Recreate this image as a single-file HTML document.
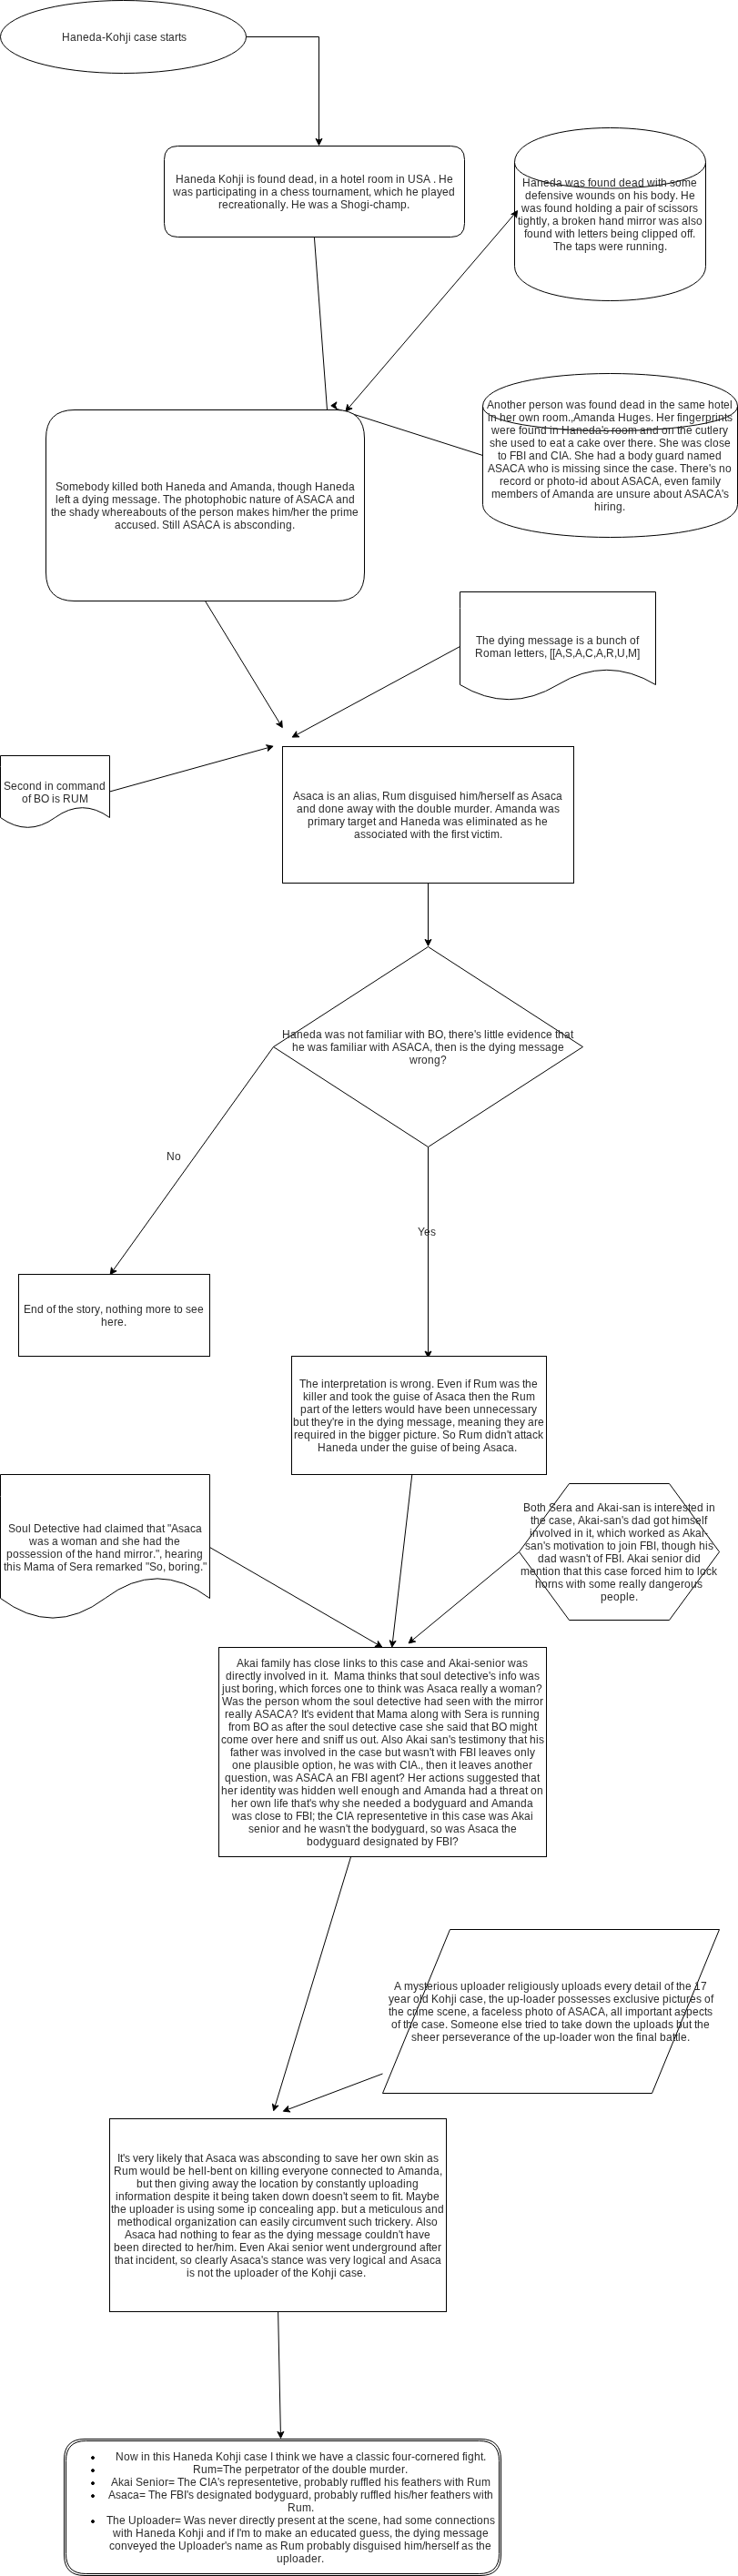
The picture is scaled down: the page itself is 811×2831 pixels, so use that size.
<!DOCTYPE html><html><head><meta charset="utf-8"><style>html,body{margin:0;padding:0;background:#fff;width:811px;height:2831px;overflow:hidden}svg{display:block;will-change:transform}</style></head><body><svg width="811" height="2831" viewBox="0 0 811 2831"><style>.s{fill:#fff;stroke:#000;stroke-width:1}.n{fill:none;stroke:#000;stroke-width:1}.a{fill:#000;stroke:#000;stroke-width:1}text{white-space:pre;font-family:"Liberation Sans",sans-serif;font-size:12px;fill:#2b2b2b}</style><ellipse cx="135.5" cy="40.5" rx="135" ry="40" class="s"/><path d="M195.5 160.5L495.5 160.5Q510.5 160.5 510.5 175.5L510.5 245.5Q510.5 260.5 495.5 260.5L195.5 260.5Q180.5 260.5 180.5 245.5L180.5 175.5Q180.5 160.5 195.5 160.5Z" class="s"/><path d="M565.5 178.5C565.5 127.83 775.5 127.83 775.5 178.5L775.5 292.5C775.5 343.17 565.5 343.17 565.5 292.5Z" class="s"/><path d="M565.5 178.5C565.5 216.5 775.5 216.5 775.5 178.5" class="n"/><path d="M530.5 446.5C530.5 398.5 810.5 398.5 810.5 446.5L810.5 554.5C810.5 602.5 530.5 602.5 530.5 554.5Z" class="s"/><path d="M530.5 446.5C530.5 482.5 810.5 482.5 810.5 446.5" class="n"/><path d="M505.5 650.5L720.5 650.5L720.5 752.5Q666.75 720.1 613 752.5Q559.25 784.9 505.5 752.5L505.5 668.5Z" class="s"/><path d="M0.5 830.5L120.5 830.5L120.5 898.5Q90.5 876.9 60.5 898.5Q30.5 920.1 0.5 898.5L0.5 842.5Z" class="s"/><rect x="310.5" y="820.5" width="320" height="150" class="s"/><path d="M470.5 1040.5L640.5 1150.5L470.5 1260.5L300.5 1150.5Z" class="s"/><path d="M0.5 1620.5L230.5 1620.5L230.5 1756.5Q173 1713.3 115.5 1756.5Q58 1799.7 0.5 1756.5L0.5 1644.5Z" class="s"/><path d="M625.5 1630.5L735.5 1630.5L790.5 1705.5L735.5 1780.5L625.5 1780.5L570.5 1705.5Z" class="s"/><rect x="240.5" y="1810.5" width="360" height="230" class="s"/><path d="M420.5 2300.5L494.5 2120.5L790.5 2120.5L716.5 2300.5Z" class="s"/><rect x="120.5" y="2328.5" width="370" height="212" class="s"/><path d="M93 2680.5L528 2680.5Q550.5 2680.5 550.5 2703L550.5 2808Q550.5 2830.5 528 2830.5L93 2830.5Q70.5 2830.5 70.5 2808L70.5 2703Q70.5 2680.5 93 2680.5Z" class="s"/><path d="M94.4 2682.5L526.6 2682.5Q548.5 2682.5 548.5 2704.4L548.5 2806.6Q548.5 2828.5 526.6 2828.5L94.4 2828.5Q72.5 2828.5 72.5 2806.6L72.5 2704.4Q72.5 2682.5 94.4 2682.5Z" class="n"/><path d="M270.5 40.5L350.5 40.5L350.5 154.15" class="n"/><path d="M350.5 159.4L354 152.4L350.5 154.15L347 152.4Z" class="a"/><path d="M345.4 260.5L359.5 450.5" class="n"/><path d="M564.5 236.2L383.31 448.01" class="n"/><path d="M379.9 452L387.11 448.96L383.31 448.01L381.79 444.41Z" class="a"/><path d="M568.5 231.6L561.74 235.53L565.62 235.99L567.59 239.37Z" class="a"/><path d="M530.5 500.5L369 449" class="n"/><path d="M363.8 445.8L370 441.8L368.5 445.5L370 449.7Z" class="a"/><path d="M225.5 660.5L307.57 795.12" class="n"/><path d="M310.3 799.6L309.64 791.8L307.57 795.12L303.67 795.44Z" class="a"/><path d="M505.5 710.5L325.82 807.6" class="n"/><path d="M321.2 810.1L329.02 809.85L325.82 807.6L325.69 803.69Z" class="a"/><path d="M120.5 870L295.04 821.6" class="n"/><path d="M300.1 820.2L292.42 818.7L295.04 821.6L294.29 825.44Z" class="a"/><path d="M470.5 970.5L470.5 1034.15" class="n"/><path d="M470.5 1039.4L474 1032.4L470.5 1034.15L467 1032.4Z" class="a"/><path d="M300.5 1150.5L124.26 1396.23" class="n"/><path d="M121.2 1400.5L128.12 1396.85L124.26 1396.23L122.44 1392.77Z" class="a"/><path d="M470.5 1260.5L470.5 1486.75" class="n"/><path d="M470.5 1492L474 1485L470.5 1486.75L467 1485Z" class="a"/><path d="M452.8 1620.5L431.41 1804.79" class="n"/><path d="M430.8 1810L435.08 1803.45L431.41 1804.79L428.13 1802.64Z" class="a"/><path d="M230.5 1700.5L415.16 1807.37" class="n"/><path d="M419.7 1810L415.39 1803.46L415.16 1807.37L411.89 1809.52Z" class="a"/><path d="M570.5 1705.5L453.15 1802.55" class="n"/><path d="M449.1 1805.9L456.72 1804.14L453.15 1802.55L452.26 1798.74Z" class="a"/><path d="M385.6 2040.5L302.23 2314.68" class="n"/><path d="M300.7 2319.7L306.09 2314.02L302.23 2314.68L299.39 2311.98Z" class="a"/><path d="M420.5 2279L316.21 2318.35" class="n"/><path d="M311.3 2320.2L319.08 2321L316.21 2318.35L316.61 2314.45Z" class="a"/><path d="M305.6 2540.5L308.39 2674.15" class="n"/><path d="M308.5 2679.4L311.85 2672.33L308.39 2674.15L304.85 2672.47Z" class="a"/><path d="M82 450.5L369 450.5Q400.5 450.5 400.5 482L400.5 629Q400.5 660.5 369 660.5L82 660.5Q50.5 660.5 50.5 629L50.5 482Q50.5 450.5 82 450.5Z" class="s"/><rect x="20.5" y="1400.5" width="210" height="90" class="s"/><rect x="320.5" y="1490.5" width="280" height="130" class="s"/><text x="68 77 84 91 98 105 112 116 124 131 138 141 144 147 153 160 166 173 176 182 185 192 196 199" y="45">Haneda-Kohji case starts</text><text x="193 202 209 216 223 230 237 240 248 255 262 265 268 271 274 280 283 286 293 300 307 314 317 324 331 338 345 348 351 354 361 364 371 374 381 388 391 398 401 404 408 415 422 432 435 438 445 448 457 465 473 476 479 482 491" y="201">Haneda Kohji is found dead, in a hotel room in USA . He</text><text x="190 199 206 212 215 222 229 233 236 239 245 248 255 262 265 268 275 282 285 288 295 298 305 308 314 321 328 334 340 343 346 353 360 364 371 378 388 395 402 405 408 411 420 427 430 436 443 446 453 460 463 470 473 480 486 493" y="215">was participating in a chess tournament, which he played</text><text x="240 244 251 257 261 268 275 278 281 288 295 302 305 308 314 317 320 329 336 339 348 355 361 364 371 374 382 389 396 403 406 410 416 423 430 440 447" y="229">recreationally. He was a Shogi-champ.</text><text x="574 583 590 597 604 611 618 621 630 637 643 646 649 656 663 670 677 680 687 694 701 708 711 720 723 726 733 736 742 749 759" y="205">Haneda was found dead with some</text><text x="577 584 591 594 601 608 614 617 623 630 633 642 649 656 663 670 676 679 686 693 696 703 706 712 715 722 729 736 742 745 748 757" y="219">defensive wounds on his body. He</text><text x="573 582 589 595 598 601 608 615 622 629 632 639 646 649 656 659 666 673 676 683 686 693 700 703 707 710 717 720 723 729 735 738 744 750 757 761" y="233">was found holding a pair of scissors</text><text x="569 572 575 582 589 592 595 601 604 607 614 617 624 628 635 641 648 655 658 665 672 679 686 689 699 702 706 710 717 721 724 733 740 746 749 756 759 765" y="247">tightly, a broken hand mirror was also</text><text x="576 579 586 593 600 607 610 619 622 625 632 635 638 645 648 651 658 662 668 671 678 685 688 695 702 705 711 714 717 724 731 738 745 748 755 758 761" y="261">found with letters being clipped off.</text><text x="608 615 622 629 632 635 642 649 655 658 667 674 678 685 688 692 699 706 713 716 723 730" y="275">The taps were running.</text><text x="61 69 76 86 93 100 107 114 120 123 129 132 135 138 145 152 155 162 169 172 179 182 191 198 205 212 219 226 229 236 243 250 253 261 271 278 285 292 299 302 305 308 315 322 329 336 343 346 355 362 369 376 383" y="539">Somebody killed both Haneda and Amanda, though Haneda</text><text x="61 64 71 74 77 80 87 90 97 103 106 113 120 123 133 140 146 152 159 166 173 176 179 186 193 200 203 210 217 224 227 234 241 248 255 262 265 271 274 281 288 291 298 302 309 312 319 322 325 333 341 349 358 366 369 376 383" y="553">left a dying message. The photophobic nature of ASACA and</text><text x="56 59 66 73 76 82 89 96 103 109 112 121 128 135 139 146 153 160 167 174 177 183 186 193 196 199 202 209 216 219 226 233 237 243 250 257 260 270 277 283 290 296 299 306 309 319 322 329 336 340 343 346 353 360 363 370 374 377 387" y="567">the shady whereabouts of the person makes him/her the prime</text><text x="126 133 139 145 152 158 165 172 175 178 186 189 192 195 198 201 209 217 225 234 242 245 248 254 257 264 271 277 283 290 297 304 307 314 321" y="581">accused. Still ASACA is absconding.</text><text x="535 543 550 557 560 567 574 578 581 588 595 599 605 612 619 622 631 638 644 647 650 657 664 671 678 681 688 695 702 709 712 715 722 725 728 735 742 745 751 758 768 775 778 785 792 795 802" y="449">Another person was found dead in the same hotel</text><text x="536 539 546 549 556 563 567 570 577 586 593 596 600 607 614 624 627 630 638 648 655 662 669 676 679 688 695 702 709 715 718 721 730 737 741 744 747 750 757 764 771 775 782 786 789 796 799" y="463">in her own room.,Amanda Huges. Her fingerprints</text><text x="540 549 556 560 567 570 573 580 587 594 601 604 607 614 617 626 633 640 647 654 661 663 669 672 676 683 690 700 703 710 717 724 727 734 741 744 747 754 761 764 770 777 780 783 790 794" y="477">were found in Haneda&#x27;s room and on the cutlery</text><text x="538 544 551 558 561 568 574 581 588 591 594 601 604 611 618 621 624 631 634 640 647 653 660 663 670 676 683 687 690 693 700 707 711 718 721 724 732 739 746 749 758 765 771 774 780 783 790 796" y="491">she used to eat a cake over there. She was close</text><text x="547 550 557 560 567 575 578 581 588 595 602 605 614 617 625 628 631 639 646 653 656 663 670 677 680 687 690 697 704 711 717 720 727 734 741 745 752 755 762 769 779 786" y="505">to FBI and CIA. She had a body guard named</text><text x="536 544 552 560 569 577 580 589 596 603 606 609 615 618 628 631 637 643 646 653 660 663 669 672 679 685 692 695 698 705 712 715 721 728 734 741 744 747 754 761 768 772 779 781 787 790 797" y="519">ASACA who is missing since the case. There&#x27;s no</text><text x="549 553 560 566 573 577 584 587 594 598 601 608 615 622 625 632 636 639 646 649 656 663 670 677 680 683 691 699 707 716 724 727 730 737 743 750 757 760 763 770 780 783 786" y="533">record or photo-id about ASACA, even family</text><text x="540 550 557 567 574 581 585 591 594 601 604 607 615 625 632 639 646 653 656 663 667 674 677 684 691 697 704 708 715 718 725 732 739 746 749 752 760 768 776 785 793 795" y="547">members of Amanda are unsure about ASACA&#x27;s</text><text x="653 660 663 667 670 677 684" y="561">hiring.</text><text x="523 530 537 544 547 554 560 563 570 577 580 590 597 603 609 616 623 630 633 636 642 645 652 655 662 669 676 682 689 692 699" y="708">The dying message is a bunch of</text><text x="522 531 538 548 555 562 565 568 575 578 581 588 592 598 601 604 607 610 618 621 629 632 640 643 652 655 663 666 675 678 687 690 700" y="722">Roman letters, [[A,S,A,C,A,R,U,M]</text><text x="4 12 19 25 32 39 46 49 52 59 62 68 75 85 95 102 109" y="868">Second in command</text><text x="24 31 34 37 45 54 57 60 66 69 78 87" y="882">of BO is RUM</text><text x="322 330 336 343 349 356 359 362 368 371 378 385 388 395 398 401 408 414 417 420 429 436 446 449 456 459 465 472 479 482 488 495 502 505 512 515 525 528 535 542 546 552 559 562 565 568 575 581 584 592 598 605 611" y="879">Asaca is an alias, Rum disguised him/herself as Asaca</text><text x="326 333 340 347 350 357 364 371 378 381 388 397 404 410 413 422 425 428 435 438 441 448 455 458 465 472 479 486 489 496 499 509 516 520 527 534 538 541 544 552 562 569 576 583 590 593 602 609" y="893">and done away with the double murder. Amanda was</text><text x="338 345 349 352 362 369 373 379 382 385 392 396 403 410 413 416 423 430 437 440 449 456 463 470 477 484 487 496 503 509 512 519 522 525 535 538 545 552 555 562 569 572 579 585 588 595" y="907">primary target and Haneda was eliminated as he</text><text x="389 396 402 408 415 421 424 431 434 441 448 451 460 463 466 473 476 479 486 493 496 499 502 506 512 515 518 524 527 533 536 539 549" y="921">associated with the first victim.</text><text x="310 319 326 333 340 347 354 357 366 373 379 382 389 396 399 402 405 412 422 425 428 431 438 442 445 454 457 460 467 470 478 487 490 493 496 503 510 514 521 523 529 532 535 538 541 544 547 554 557 564 570 573 580 587 594 600 607 610 613 620 627" y="1141">Haneda was not familiar with BO, there&#x27;s little evidence that</text><text x="321 328 335 338 347 354 360 363 366 373 383 386 389 392 399 403 406 415 418 421 428 431 439 447 455 464 472 475 478 481 488 495 502 505 508 514 517 520 527 534 537 544 550 553 560 567 570 580 587 593 599 606 613" y="1155">he was familiar with ASACA, then is the dying message</text><text x="450 459 463 470 477 484" y="1169">wrong?</text><text x="26 34 41 48 51 58 61 64 67 74 81 84 90 93 100 104 110 113 116 123 130 133 140 143 150 157 160 170 177 181 188 191 194 201 204 210 217" y="1443">End of the story, nothing more to see</text><text x="111 118 125 129 136" y="1457">here.</text><text x="329 336 343 350 353 356 363 366 373 377 384 388 395 398 405 408 411 418 425 428 431 437 440 449 453 460 467 474 477 480 488 494 501 508 511 514 517 520 529 536 546 549 558 565 571 574 577 584" y="1525">The interpretation is wrong. Even if Rum was the</text><text x="333 339 342 345 348 355 359 362 369 376 383 386 389 396 403 409 412 415 422 429 432 439 446 449 455 462 465 472 475 478 486 492 499 505 512 515 518 525 532 539 542 545 552 559 562 571 578" y="1539">killer and took the guise of Asaca then the Rum</text><text x="330 337 344 348 351 354 361 364 367 370 377 384 387 390 397 400 403 410 414 420 423 432 439 446 449 456 459 466 473 479 486 489 496 503 510 517 520 527 534 541 548 554 561 567 573 580 584" y="1553">part of the letters would have been unnecessary</text><text x="322 329 336 339 342 345 352 359 365 367 371 378 381 384 391 394 397 404 411 414 421 427 430 437 444 447 457 464 470 476 483 490 497 500 503 513 520 527 534 537 544 551 554 557 564 571 577 580 587 591" y="1567">but they&#x27;re in the dying message, meaning they are</text><text x="323 327 334 341 348 351 355 362 369 372 375 382 385 388 395 402 405 412 415 422 429 436 440 443 450 453 459 462 469 473 480 483 486 494 501 504 513 520 530 533 540 543 550 557 559 562 565 572 575 578 585 591" y="1581">required in the bigger picture. So Rum didn&#x27;t attack</text><text x="349 358 365 372 379 386 393 396 403 410 417 424 428 431 434 441 448 451 458 465 468 474 481 484 491 494 497 504 511 514 521 528 531 539 545 552 558 565 568" y="1595">Haneda under the guise of being Asaca. </text><text x="9 17 24 31 34 37 46 53 56 63 69 72 75 81 88 91 98 105 112 115 121 124 131 134 144 151 158 161 164 171 178 181 184 188 196 202 209 215" y="1684">Soul Detective had claimed that &quot;Asaca</text><text x="32 41 48 54 57 64 67 76 83 93 100 107 110 117 124 131 134 140 147 154 157 164 171 178 181 184 191" y="1698">was a woman and she had the</text><text x="7 14 21 27 33 40 46 52 55 62 69 72 79 82 85 88 95 102 105 112 119 126 133 136 146 149 153 157 164 168 171 175 178 181 188 195 202 206 209 216" y="1712">possession of the hand mirror.&quot;, hearing</text><text x="4 7 14 17 23 26 36 43 53 60 63 70 73 76 84 91 95 102 105 109 116 126 133 137 143 150 157 160 164 172 179 182 185 192 199 203 206 213 220 223" y="1726">this Mama of Sera remarked &quot;So, boring.&quot;</text><text x="575 583 590 593 600 603 611 618 622 629 632 639 646 653 656 664 670 677 680 684 690 697 704 707 710 716 719 722 729 732 739 743 750 756 759 766 773 776 779" y="1661">Both Sera and Akai-san is interested in</text><text x="583 586 593 600 603 609 616 622 629 632 635 643 649 656 659 663 669 676 683 685 691 694 701 708 715 718 725 732 735 738 745 748 758 764 771 774" y="1675">the case, Akai-san&#x27;s dad got himself</text><text x="582 585 592 598 605 608 614 621 628 631 634 641 644 647 650 653 656 665 672 675 681 688 691 700 707 711 717 724 731 734 741 747 750 758 764 771 774" y="1689">involved in it, which worked as Akai-</text><text x="577 583 590 597 599 605 608 618 625 628 631 637 644 647 650 657 664 667 670 677 680 683 690 693 700 703 710 718 721 724 727 730 737 744 751 758 765 768 775 778" y="1703">san&#x27;s motivation to join FBI, though his</text><text x="591 598 605 612 615 624 631 637 644 646 649 652 659 662 665 672 680 683 686 689 697 703 710 713 716 722 729 736 739 746 750 753 760 763" y="1717">dad wasn&#x27;t of FBI. Akai senior did</text><text x="572 582 589 596 599 602 609 616 619 622 629 636 639 642 645 652 655 661 664 670 677 683 690 693 696 703 707 713 720 727 730 737 740 750 753 756 763 766 769 776 782" y="1731">mention that this case forced him to lock</text><text x="588 595 602 606 613 619 622 631 634 637 644 647 653 660 670 677 680 684 691 698 701 704 710 713 720 727 734 741 748 752 759 766" y="1745">horns with some really dangerous</text><text x="660 667 674 681 688 691 698" y="1759">people.</text><text x="260 268 274 281 284 287 290 297 307 310 313 319 322 329 336 342 345 351 354 361 367 374 377 380 383 390 396 402 405 408 415 418 421 428 431 437 440 446 453 459 466 469 476 483 490 493 501 507 514 517 521 527 534 541 544 551 555 558 567 574" y="1832">Akai family has close links to this case and Akai-senior was</text><text x="248 255 258 262 269 275 278 281 287 290 293 300 306 313 316 322 329 336 339 342 349 352 355 358 361 364 367 377 384 394 401 404 407 414 417 424 430 436 439 442 449 456 459 462 468 475 482 485 488 495 502 505 512 518 521 524 530 537 539 545 548 551 558 561 568 571 580 587" y="1846">directly involved in it.  Mama thinks that soul detective&#x27;s info was</text><text x="244 247 254 260 263 266 273 280 284 287 294 301 304 307 316 323 326 332 339 342 345 352 356 362 369 375 378 385 392 399 402 405 412 415 418 425 428 435 441 444 453 460 466 469 477 483 490 496 503 506 510 517 524 527 530 536 539 546 549 558 565 575 582 589" y="1860">just boring, which forces one to think was Asaca really a woman?</text><text x="244 255 262 268 271 274 281 288 291 298 305 309 315 322 329 332 341 348 355 365 368 371 378 385 388 394 401 408 411 414 421 428 431 438 444 447 450 456 463 466 473 480 487 490 496 503 510 517 520 529 532 535 542 545 548 555 562 565 575 578 582 586 593" y="1874">Was the person whom the soul detective had seen with the mirror</text><text x="247 251 258 265 268 271 277 280 288 296 304 313 321 328 331 334 337 339 345 348 355 361 364 371 378 385 388 391 394 401 408 411 414 424 431 441 448 451 458 461 468 475 482 485 494 497 500 507 510 518 525 529 536 539 542 548 551 555 562 569 576 579 586" y="1888">really ASACA? It&#x27;s evident that Mama along with Sera is running</text><text x="251 254 258 265 275 278 286 295 298 305 311 314 321 324 327 334 338 341 344 351 358 361 367 374 381 384 387 394 401 404 411 417 420 423 429 436 439 445 452 458 465 468 474 481 488 491 497 504 507 514 517 520 527 534 537 540 548 557 560 570 573 580 587" y="1902">from BO as after the soul detective case she said that BO might</text><text x="243 249 256 266 273 276 283 289 296 300 303 310 317 321 328 331 338 345 352 355 361 368 371 374 377 380 387 393 396 403 410 413 416 419 427 430 436 443 446 454 460 467 470 473 479 486 493 495 501 504 507 514 520 523 526 536 543 550 556 559 562 569 576 579 582 589 592" y="1916">come over here and sniff us out. Also Akai san&#x27;s testimony that his</text><text x="253 256 263 266 273 280 284 287 296 303 309 312 315 322 328 335 338 344 351 358 361 364 371 374 377 384 391 394 400 407 413 420 423 430 437 440 443 452 459 465 472 474 477 480 489 492 495 502 505 512 520 523 526 529 536 543 549 556 562 565 572 579 582" y="1930">father was involved in the case but wasn&#x27;t with FBI leaves only</text><text x="255 262 269 276 279 286 289 296 303 309 312 319 322 329 332 339 346 349 352 359 366 369 372 379 386 389 398 405 411 414 423 426 429 436 439 448 451 459 462 465 468 471 478 485 492 495 498 501 504 507 514 521 527 534 540 543 550 557 564 567 574 581" y="1944">one plausible option, he was with CIA., then it leaves another</text><text x="247 254 261 268 274 277 280 287 294 297 300 309 316 322 325 333 341 349 358 366 369 376 383 386 393 401 404 407 414 421 428 435 438 445 448 457 464 468 471 478 484 487 490 497 504 510 513 519 526 533 540 547 553 556 563 570 573 576 583 590" y="1958">question, was ASACA an FBI agent? Her actions suggested that</text><text x="243 250 257 261 264 267 274 281 288 291 294 297 303 306 315 322 328 331 338 341 348 355 362 369 372 381 388 391 394 397 404 411 418 425 432 439 442 449 456 463 466 474 484 491 498 505 512 515 522 529 536 539 546 549 552 559 563 570 577 580 583 590" y="1972">her identity was hidden well enough and Amanda had a threat on</text><text x="254 261 268 272 275 282 291 298 301 304 307 310 317 320 323 330 337 340 342 348 351 360 367 373 376 382 389 396 399 406 413 420 427 434 441 444 451 454 461 468 475 481 488 495 502 506 513 516 523 530 537 540 548 558 565 572 579" y="1986">her own life that&#x27;s why she needed a bodyguard and Amanda</text><text x="255 264 271 277 280 286 289 296 302 309 312 315 322 325 332 340 343 346 349 352 359 366 369 378 381 389 392 396 403 410 414 421 427 434 441 444 451 454 457 463 470 473 476 483 486 489 496 499 505 508 514 521 527 534 537 546 553 559 562 570 576 583" y="2000">was close to FBI; the CIA representetive in this case was Akai</text><text x="273 279 286 293 296 303 307 310 317 324 331 334 341 348 351 360 367 373 380 382 385 388 391 398 405 408 415 422 429 435 442 449 456 460 467 470 473 479 486 489 498 505 511 514 522 528 535 541 548 551 554 561" y="2014">senior and he wasn&#x27;t the bodyguard, so was Asaca the</text><text x="337 344 351 358 364 371 378 385 389 396 399 406 413 419 422 429 436 443 446 453 460 463 470 476 479 486 494 497" y="2028">bodyguard designated by FBI?</text><text x="433 441 444 454 460 466 469 476 480 483 490 497 503 506 513 520 523 530 537 544 551 555 558 562 569 572 575 582 585 592 599 605 608 614 617 624 631 634 641 648 655 661 664 671 677 684 688 694 697 704 711 714 721 724 727 730 737 740 743 746 753 760 763 770" y="2187">A mysterious uploader religiously uploads every detail of the 17</text><text x="427 433 440 447 451 454 461 464 471 474 482 489 496 499 502 505 511 518 524 531 534 537 540 547 554 557 564 571 575 578 585 592 599 606 610 613 620 627 633 639 646 652 658 665 671 674 681 687 693 696 703 709 712 718 725 728 735 738 744 747 754 758 765 771 774 781" y="2201">year old Kohji case, the up-loader possesses exclusive pictures of</text><text x="427 430 437 444 447 453 457 460 470 477 480 486 492 499 506 513 516 519 526 529 532 539 545 552 555 562 568 574 577 584 591 598 601 608 611 618 621 624 632 640 648 657 665 668 671 678 681 684 687 690 700 707 714 718 721 728 735 738 741 748 754 761 768 774 777" y="2215">the crime scene, a faceless photo of ASACA, all important aspects</text><text x="430 437 440 443 446 453 460 463 469 476 482 489 492 495 503 510 520 527 534 541 548 551 558 561 567 574 577 580 584 587 594 601 604 607 614 617 620 627 633 640 643 650 657 666 673 676 679 686 693 696 703 710 713 720 727 734 740 743 750 757 760 763 766 773" y="2229">of the case. Someone else tried to take down the uploads but the</text><text x="452 458 465 472 479 483 486 493 500 504 510 517 523 530 534 541 548 554 561 564 571 574 577 580 587 594 597 604 611 615 618 625 632 639 646 650 653 662 669 676 679 682 689 696 699 702 705 712 719 722 725 732 739 742 745 748 755" y="2243">sheer perseverance of the up-loader won the final battle.</text><text x="129 132 135 137 143 146 152 159 163 169 172 175 178 184 191 194 200 203 206 213 220 223 226 234 240 247 253 260 263 272 279 285 288 295 302 308 314 321 328 335 338 345 352 355 358 365 368 374 381 387 394 397 404 411 415 418 425 434 441 444 450 456 459 466 469 476" y="2376">It&#x27;s very likely that Asaca was absconding to save her own skin as</text><text x="125 134 141 151 154 163 170 177 180 187 190 197 204 207 214 221 224 227 231 238 245 252 255 258 265 272 275 281 284 287 290 293 300 307 310 317 323 330 334 340 347 354 361 364 370 377 384 391 398 404 407 414 421 424 427 434 437 445 455 462 469 476 483" y="2390">Rum would be hell-bent on killing everyone connected to Amanda,</text><text x="150 157 164 167 170 173 180 187 194 197 204 207 213 216 223 230 233 240 249 256 262 265 268 275 282 285 288 295 301 308 311 314 321 328 331 338 344 347 353 360 367 373 376 383 390 393 396 402 405 412 419 422 429 436 443 446 453" y="2404">but then giving away the location by constantly uploading</text><text x="127 130 137 140 147 151 161 168 171 174 181 188 191 198 205 211 218 221 224 231 234 237 240 243 250 257 260 267 274 277 280 287 293 300 307 310 317 324 333 340 343 350 357 364 370 377 379 382 385 391 398 405 415 418 421 428 431 434 437 440 443 446 456 463 469 476" y="2418">information despite it being taken down doesn&#x27;t seem to fit. Maybe</text><text x="122 125 132 139 142 149 156 159 166 173 180 187 191 194 197 203 206 213 219 222 229 236 239 245 252 262 269 272 275 282 285 291 298 305 311 318 325 328 331 338 345 348 355 362 369 372 375 382 389 392 395 402 405 415 422 425 428 434 441 444 451 458 464 467 474 481" y="2432">the uploader is using some ip concealing app. but a meticulous and</text><text x="129 139 146 149 156 163 170 173 179 186 189 192 199 203 210 217 224 227 233 240 243 246 253 260 263 269 276 283 286 293 300 306 309 312 318 321 327 330 334 340 347 357 363 370 377 380 383 389 396 402 409 412 415 419 422 428 434 441 445 451 454 457 465 468 474" y="2446">methodical organization can easily circumvent such trickery. Also</text><text x="137 145 151 158 164 171 174 181 188 195 198 205 212 215 222 225 232 239 242 245 252 255 258 265 272 276 279 286 292 295 298 305 312 315 322 328 331 338 345 348 358 365 371 377 384 391 398 401 407 414 421 424 431 438 440 443 446 453 460 466" y="2460">Asaca had nothing to fear as the dying message couldn&#x27;t have</text><text x="125 132 139 146 153 156 163 166 170 177 183 186 193 200 203 206 213 216 223 230 234 237 244 247 257 260 263 271 277 284 291 294 302 308 315 318 321 327 334 341 344 351 355 358 367 374 381 384 387 394 401 408 415 419 426 430 437 444 451 458 461 468 471 474 481" y="2474">been directed to her/him. Even Akai senior went underground after</text><text x="126 129 136 143 146 149 152 159 165 168 175 182 189 192 195 198 204 211 214 220 223 230 237 241 244 250 253 261 267 274 280 287 289 295 298 304 307 314 321 327 334 337 346 353 359 362 368 375 379 385 388 391 398 405 408 414 421 424 427 434 441 448 451 459 465 472 478" y="2488">that incident, so clearly Asaca&#x27;s stance was very logical and Asaca</text><text x="205 208 214 217 224 231 234 237 240 247 254 257 264 271 274 281 288 295 302 306 309 316 319 322 325 332 339 342 350 357 364 367 370 373 379 386 392 399 402" y="2502">is not the uploader of the Kohji case. </text><text x="183 192" y="1275">No</text><text x="459 466 473" y="1358">Yes</text><text x="127 136 143 152 155 158 165 168 171 178 181 187 190 199 206 213 220 227 234 237 245 252 259 262 265 268 274 281 287 294 297 300 303 306 313 316 323 329 332 341 348 351 358 365 371 378 381 388 391 397 400 407 413 419 422 428 431 434 441 448 452 456 462 469 473 480 487 491 498 505 508 511 514 521 528 531" y="2704">Now in this Haneda Kohji case I think we have a classic four-cornered fight.</text><circle cx="102" cy="2701.1" r="1.5" class="a"/><text x="212 221 228 238 245 252 259 266 269 276 283 287 294 301 304 308 315 318 325 329 332 339 342 345 348 355 362 365 372 379 386 393 396 403 406 416 423 427 434 441 445" y="2718">Rum=The perpetrator of the double murder.</text><circle cx="102" cy="2715.1" r="1.5" class="a"/><text x="122 130 136 143 146 149 157 164 171 174 181 185 192 195 202 209 216 219 228 231 239 241 247 250 254 261 268 272 279 285 292 299 302 309 312 315 321 328 331 334 341 345 352 359 366 373 376 382 385 389 396 399 402 405 412 419 422 429 432 438 441 444 451 458 461 468 475 479 485 488 497 500 503 510 513 522 529" y="2732">Akai Senior= The CIA&#x27;s representetive, probably ruffled his feathers with Rum</text><circle cx="102" cy="2729.1" r="1.5" class="a"/><text x="119 127 133 140 146 153 160 163 170 177 184 187 194 202 205 207 213 216 223 230 236 239 246 253 260 263 270 277 280 287 294 301 307 314 321 328 332 339 342 345 352 356 363 370 377 384 387 393 396 400 407 410 413 416 423 430 433 440 443 449 452 459 466 470 473 476 483 490 493 500 507 511 517 520 529 532 535" y="2746">Asaca= The FBI&#x27;s designated bodyguard, probably ruffled his/her feathers with</text><circle cx="102" cy="2743.1" r="1.5" class="a"/><text x="316 325 332 342" y="2760">Rum.</text><text x="117 124 131 138 141 150 157 160 167 174 181 188 192 199 202 213 220 226 229 236 243 249 256 260 263 270 273 277 284 290 293 296 302 305 312 316 323 329 336 343 346 349 356 359 362 365 372 379 382 388 394 401 408 415 418 421 428 435 442 445 451 458 468 475 478 484 491 498 505 512 518 521 524 531 538" y="2774">The Uploader= Was never directly present at the scene, had some connections</text><circle cx="102" cy="2771.1" r="1.5" class="a"/><text x="124 133 136 139 146 149 158 165 172 179 186 193 196 204 211 218 221 224 227 234 241 248 251 254 257 260 263 265 275 278 281 288 291 301 308 314 321 324 331 338 341 348 355 362 368 375 378 385 392 395 402 409 416 422 428 431 434 437 444 451 454 461 467 470 477 484 487 497 504 510 516 523 530" y="2788">with Haneda Kohji and if I&#x27;m to make an educated guess, the dying message</text><text x="120 126 133 140 146 153 159 166 173 176 179 186 193 196 205 212 215 222 229 236 243 247 249 255 258 265 272 282 289 292 299 305 308 317 324 334 337 344 348 355 362 369 376 379 385 388 395 398 404 411 418 421 427 434 441 444 451 454 464 467 474 481 485 491 498 501 504 507 514 520 523 526 533" y="2802">conveyed the Uploader&#x27;s name as Rum probably disguised him/herself as the</text><text x="304 311 318 321 328 335 342 349 353" y="2816">uploader.</text></svg></body></html>
